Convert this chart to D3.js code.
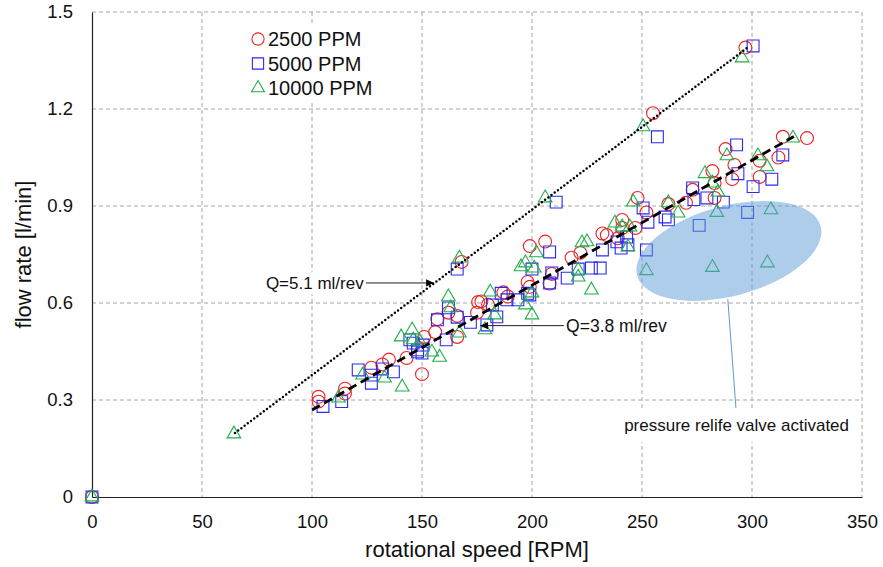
<!DOCTYPE html>
<html>
<head>
<meta charset="utf-8">
<script src="https://cdn.jsdelivr.net/npm/d3@7"></script>
<style>
body { margin: 0; background: #fff; }
svg { display: block; font-family: Arial, "Liberation Sans", sans-serif; }
</style>
</head>
<body>
<svg id="chart" width="883" height="567"></svg>
<script>
const xTicks = [0, 50, 100, 150, 200, 250, 300, 350];
const yTicks = [0, 0.3, 0.6, 0.9, 1.2, 1.5];
const seriesNames = ["2500 PPM", "5000 PPM", "10000 PPM"];

// [rpm, l/min]
const ppm2500 = [
  [0, 0], [103, 0.31], [103, 0.295], [115, 0.335], [115, 0.32], [127, 0.40], [132, 0.41],
  [135, 0.425], [143, 0.43], [150, 0.38], [151, 0.495], [156, 0.51], [157, 0.55], [162, 0.57],
  [166, 0.56], [166, 0.495], [168, 0.727], [175, 0.57], [175.5, 0.603], [177, 0.605], [180, 0.595],
  [187, 0.633], [189, 0.62], [198, 0.665], [199, 0.65], [199, 0.776], [206, 0.79], [208, 0.66],
  [209, 0.69], [218, 0.74], [222, 0.755], [232, 0.815], [234, 0.81], [239, 0.80], [241, 0.832],
  [241, 0.857], [247, 0.832], [248, 0.925], [252, 0.88], [255, 1.187], [262, 0.906], [270, 0.91],
  [273, 0.95], [282, 1.008], [283, 0.971], [283, 0.925], [288, 1.076], [292, 1.027], [291, 0.983],
  [297, 1.39], [303.5, 1.04], [303.5, 0.99], [312, 1.05], [314, 1.114], [325, 1.11]
];
const ppm5000 = [
  [0, 0], [105, 0.28], [113.5, 0.295], [121, 0.393], [127, 0.377], [127, 0.352], [132, 0.396],
  [137, 0.387], [144.5, 0.486], [146, 0.476], [148, 0.455], [148, 0.449], [150, 0.445], [150.5, 0.47],
  [157, 0.548], [161, 0.486], [162, 0.585], [166, 0.556], [166, 0.705], [172, 0.54], [179.5, 0.532],
  [182, 0.594], [184, 0.557], [186, 0.63], [188.6, 0.61], [193.6, 0.61], [198, 0.63], [199, 0.625],
  [200, 0.705], [208, 0.758], [208, 0.662], [209, 0.693], [211, 0.912], [216, 0.677], [221, 0.705],
  [227, 0.708], [231, 0.708], [232, 0.764], [238.6, 0.789], [240.5, 0.77], [243, 0.804], [243.6, 0.78],
  [250.5, 0.894], [252, 0.764], [252.7, 0.85], [257, 1.114], [260.5, 0.866], [262, 0.857], [273, 0.956],
  [273.6, 0.92], [276, 0.84], [279.5, 0.925], [287, 0.912], [293, 1.089], [293.6, 1.0], [298, 0.88],
  [300.5, 0.96], [300.5, 1.395], [309, 0.983], [314, 1.058]
];
const ppm10000 = [
  [0, 0], [64.5, 0.195], [112, 0.306], [123, 0.377], [133, 0.368], [141, 0.34], [140.5, 0.495],
  [145.5, 0.517], [146, 0.486], [149, 0.48], [154.5, 0.448], [158, 0.432], [162, 0.619], [163, 0.585],
  [167, 0.739], [167, 0.507], [178.6, 0.517], [181, 0.634], [183, 0.563], [195, 0.712], [197, 0.594],
  [197, 0.724], [200, 0.563], [200, 0.631], [201, 0.708], [202, 0.755], [206, 0.925], [221, 0.702],
  [221, 0.68], [222.7, 0.786], [225, 0.789], [227, 0.64], [237.7, 0.847], [241, 0.835], [243.6, 0.773],
  [244.5, 0.835], [246, 0.912], [250.5, 1.145], [252, 0.70], [262, 0.91], [266.4, 0.878], [278.6, 1.0],
  [282, 0.71], [282, 0.971], [284.5, 0.943], [284, 0.88], [288.6, 1.055], [295.5, 1.358], [302.7, 1.055],
  [306.8, 1.021], [307, 0.724], [308.6, 0.888], [318.6, 1.11]
];

// fitted lines (end points)
const line51 = [[65, 0.198], [298, 1.39]];
const line38 = [[100, 0.269], [319, 1.115]];

const width = 883, height = 567;
const margin = { top: 12, right: 21, bottom: 70, left: 92 };
const iw = width - margin.left - margin.right;
const ih = height - margin.top - margin.bottom;

const svg = d3.select("#chart");
const g = svg.append("g").attr("transform", `translate(${margin.left},${margin.top})`);

const x = d3.scaleLinear().domain([0, 350]).range([0, iw]);
const y = d3.scaleLinear().domain([0, 1.5]).range([ih, 0]);

const defs = svg.append("defs");
defs.append("marker")
  .attr("id", "arrow")
  .attr("viewBox", "0 -5 10 10")
  .attr("refX", 10).attr("refY", 0)
  .attr("markerWidth", 9).attr("markerHeight", 8)
  .attr("markerUnits", "userSpaceOnUse")
  .attr("orient", "auto")
  .append("path").attr("d", "M0,-4.5L10,0L0,4.5Z").attr("fill", "#000");

// grid
g.append("g").selectAll("line")
  .data(xTicks.filter(d => d > 0))
  .enter().append("line")
  .attr("x1", d => x(d)).attr("x2", d => x(d))
  .attr("y1", 0).attr("y2", ih)
  .attr("stroke", "#a6a6a6").attr("stroke-dasharray", "4,3");
g.append("g").selectAll("line")
  .data(yTicks.filter(d => d > 0))
  .enter().append("line")
  .attr("x1", 0).attr("x2", iw)
  .attr("y1", d => y(d)).attr("y2", d => y(d))
  .attr("stroke", "#a6a6a6").attr("stroke-dasharray", "4,3");

// axes
const xAxis = d3.axisBottom(x).tickValues(xTicks).tickSize(0).tickPadding(18);
const yAxis = d3.axisLeft(y).tickValues(yTicks).tickSize(0).tickPadding(19)
  .tickFormat(d => d === 0 ? "0" : d3.format(".1f")(d));
const gx = g.append("g").attr("transform", `translate(0,${ih})`).call(xAxis);
const gy = g.append("g").call(yAxis);
[gx, gy].forEach(a => {
  a.select(".domain").attr("stroke", "#222").attr("stroke-width", 1.2);
  a.selectAll("text").attr("font-size", 18.5).attr("fill", "#111")
    .attr("font-family", "Arial, 'Liberation Sans', sans-serif");
});

// axis titles
svg.append("text")
  .attr("x", 477).attr("y", 557)
  .attr("text-anchor", "middle").attr("font-size", 22).attr("fill", "#111")
  .text("rotational speed [RPM]");
svg.append("text")
  .attr("transform", `translate(31,${margin.top + ih / 2}) rotate(-90)`)
  .attr("text-anchor", "middle").attr("font-size", 22).attr("fill", "#111")
  .text("flow rate [l/min]");

// text boxes that hide the grid
function labelBox(cx, cy, w, h) {
  g.append("rect").attr("x", cx).attr("y", cy).attr("width", w).attr("height", h).attr("fill", "#fff");
}

// series markers
const styles = [
  { data: ppm2500, color: "#ee2222", type: d3.symbolCircle, size: 130 },
  { data: ppm5000, color: "#2a2af0", type: d3.symbolSquare, size: 140 },
  { data: ppm10000, color: "#1fae4a", type: d3.symbolTriangle, size: 80 }
];
styles.forEach(s => {
  g.append("g").selectAll("path")
    .data(s.data)
    .enter().append("path")
    .attr("transform", d => `translate(${x(d[0])},${y(d[1])})`)
    .attr("d", d3.symbol().type(s.type).size(s.size))
    .attr("fill", "none")
    .attr("stroke", s.color)
    .attr("stroke-width", 1.1);
});

// fit lines
const lineGen = d3.line().x(d => x(d[0])).y(d => y(d[1]));
g.append("path").datum(line51).attr("d", lineGen)
  .attr("stroke", "#000").attr("stroke-width", 2.5).attr("fill", "none")
  .attr("stroke-dasharray", "0,4").attr("stroke-linecap", "round");
g.append("path").datum(line38).attr("d", lineGen)
  .attr("stroke", "#000").attr("stroke-width", 2.8).attr("fill", "none")
  .attr("stroke-dasharray", "9,5");

// relief valve region
const ell = { rpm: 289.5, flow: 0.761 };
g.append("ellipse")
  .attr("transform", `translate(${x(ell.rpm)},${y(ell.flow)}) rotate(-15)`)
  .attr("rx", 95).attr("ry", 45)
  .attr("fill", "#5b9bd5").attr("fill-opacity", 0.5);

g.append("line")
  .attr("x1", x(289)).attr("y1", y(0.612))
  .attr("x2", x(292.7)).attr("y2", y(0.275))
  .attr("stroke", "#5b9bd5").attr("stroke-width", 1);
labelBox(x(238), y(0.275), x(350) - x(238) - 3, 34);
g.append("text")
  .attr("x", x(293)).attr("y", y(0.223))
  .attr("dy", "0.35em").attr("text-anchor", "middle")
  .attr("font-size", 17).attr("fill", "#111")
  .text("pressure relife valve activated");

// Q annotations
labelBox(x(76), y(0.695), x(124) - x(76), 22);
g.append("text")
  .attr("x", x(123.5)).attr("y", y(0.662)).attr("dy", "0.35em")
  .attr("text-anchor", "end").attr("font-size", 17).attr("fill", "#111")
  .text("Q=5.1 ml/rev");
g.append("line")
  .attr("x1", x(124.5)).attr("y1", y(0.662))
  .attr("x2", x(155.5)).attr("y2", y(0.662))
  .attr("stroke", "#222").attr("stroke-width", 1).attr("marker-end", "url(#arrow)");

labelBox(x(214.5), y(0.562), x(262) - x(214.5), 22);
g.append("text")
  .attr("x", x(215.5)).attr("y", y(0.53)).attr("dy", "0.35em")
  .attr("text-anchor", "start").attr("font-size", 17.5).attr("fill", "#111")
  .text("Q=3.8 ml/rev");
g.append("line")
  .attr("x1", x(214.5)).attr("y1", y(0.53))
  .attr("x2", x(176.4)).attr("y2", y(0.53))
  .attr("stroke", "#222").attr("stroke-width", 1).attr("marker-end", "url(#arrow)");

// legend
const legend = svg.append("g").attr("transform", "translate(245,25)");
legend.append("rect").attr("width", 136).attr("height", 76).attr("fill", "#fff");
seriesNames.forEach((name, i) => {
  const row = legend.append("g").attr("transform", `translate(13,${14 + i * 24.5})`);
  row.append("path")
    .attr("d", d3.symbol().type(styles[i].type).size(styles[i].size * 0.9))
    .attr("fill", "none").attr("stroke", styles[i].color).attr("stroke-width", 1.1);
  row.append("text").attr("x", 10).attr("dy", "0.35em")
    .attr("font-size", 20).attr("fill", "#111").text(name);
});
</script>
</body>
</html>
